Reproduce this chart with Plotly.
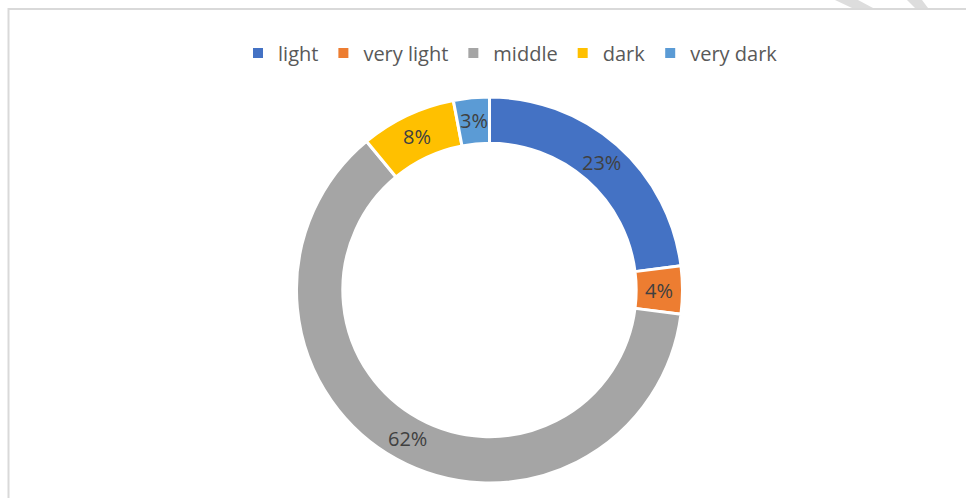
import math
import plotly.graph_objects as go

categories = ["light", "very light", "middle", "dark", "very dark"]
values = [23, 4, 62, 8, 3]
colors = ["#4472C4", "#ED7D31", "#A5A5A5", "#FFC000", "#5B9BD5"]

W, H = 966, 498
cx, cy, r = 489.5, 290, 193
hole = 0.76

fig = go.Figure(go.Pie(
    labels=categories,
    values=values,
    sort=False,
    direction="clockwise",
    rotation=0,
    hole=hole,
    marker=dict(colors=colors, line=dict(color="white", width=3)),
    textinfo="none",
    domain=dict(x=[(cx - r) / W, (cx + r) / W], y=[(H - cy - r) / H, (H - cy + r) / H]),
))

# data labels at the middle of each ring segment, derived from the values
total = sum(values)
rmid = r * (1 + hole) / 2
annotations = []
cum = 0
for v in values:
    mid = (cum + v / 2) / total * 2 * math.pi
    cum += v
    px = cx + rmid * math.sin(mid)
    py = cy - rmid * math.cos(mid)
    annotations.append(dict(
        x=px / W, y=(H - py) / H, xref="paper", yref="paper",
        text=f"{round(100 * v / total)}%", showarrow=False,
        font=dict(family="Open Sans", size=20, color="#404040"),
        xanchor="center", yanchor="middle",
    ))


def px_path(pts):
    return "M" + " L".join(f"{x / W},{(H - y) / H}" for x, y in pts) + " Z"


shapes = [
    dict(type="rect", xref="paper", yref="paper", x0=8.5 / W, x1=1.02, y0=-0.02, y1=(H - 9) / H,
         line=dict(color="#D9D9D9", width=2), fillcolor="rgba(0,0,0,0)", layer="below"),
    dict(type="path", xref="paper", yref="paper", path=px_path([(835, 0), (858, 0), (873, 8), (852, 8)]),
         fillcolor="#DDDDDD", line=dict(width=0), layer="below"),
    dict(type="path", xref="paper", yref="paper", path=px_path([(907, 0), (922, 0), (928, 8), (915, 8)]),
         fillcolor="#DDDDDD", line=dict(width=0), layer="below"),
]

fig.update_layout(
    width=W, height=H,
    margin=dict(l=0, r=0, t=0, b=0),
    paper_bgcolor="white",
    plot_bgcolor="white",
    showlegend=True,
    legend=dict(orientation="h", x=0.5285, xanchor="center", y=(H - 53) / H, yanchor="middle",
                font=dict(family="Open Sans", size=20, color="#595959"),
                itemsizing="constant"),
    shapes=shapes,
    annotations=annotations,
)

fig.write_html("out.html")
